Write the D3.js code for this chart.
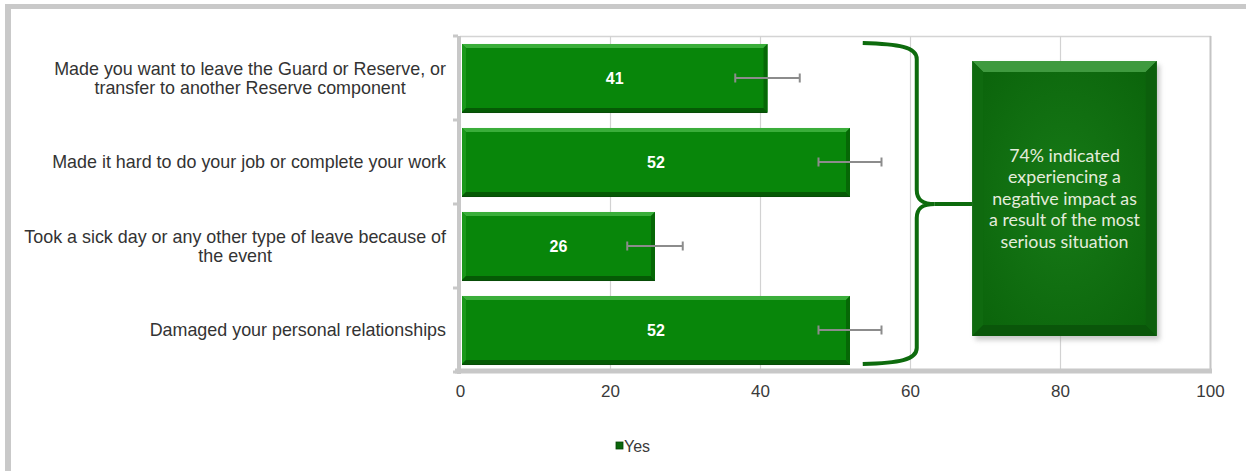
<!DOCTYPE html>
<html>
<head>
<meta charset="utf-8">
<script src="https://cdn.jsdelivr.net/npm/d3@7"></script>
<style>
  html, body { margin: 0; padding: 0; background: #ffffff; }
  svg { display: block; }
</style>
</head>
<body>
<svg id="chart" width="1249" height="471"></svg>
<script>
// ---- data ----
const categories = [
  ["Made you want to leave the Guard or Reserve, or", "transfer to another Reserve component"],
  ["Made it hard to do your job or complete your work"],
  ["Took a sick day or any other type of leave because of", "the event"],
  ["Damaged your personal relationships"]
];
const values = [41, 52, 26, 52];
const errorMargins = [4.3, 4.2, 3.7, 4.2];
const xTicks = [0, 20, 40, 60, 80, 100];
const seriesName = "Yes";
const calloutLines = ["74% indicated", "experiencing a", "negative impact as", "a result of the most", "serious situation"];

// ---- setup ----
const svg = d3.select("#chart");
const W = 1249, H = 471;
const catKeys = categories.map((c, i) => "c" + i);

const x = d3.scaleLinear().domain([0, 100]).range([460, 1210]);
const y = d3.scaleBand().domain(catKeys).range([36, 372]).paddingInner(0.19).paddingOuter(0.095);

const defs = svg.append("defs");

// chart-area frame (top & left edges visible)
svg.append("rect").attr("x", 5).attr("y", 4).attr("width", 1241).attr("height", 5).attr("fill", "#c9c9c9");
svg.append("rect").attr("x", 5).attr("y", 4).attr("width", 6).attr("height", H - 4).attr("fill", "#c9c9c9");

// plot area border (top)
svg.append("line").attr("x1", x(0)).attr("x2", x(100) + 1).attr("y1", 36.5).attr("y2", 36.5)
  .attr("stroke", "#d4d4d4").attr("stroke-width", 1.5);

// gridlines
svg.append("g").selectAll("line").data(xTicks.filter(d => d > 0)).join("line")
  .attr("x1", d => Math.round(x(d)) + 0.5).attr("x2", d => Math.round(x(d)) + 0.5)
  .attr("y1", 36).attr("y2", 370)
  .attr("stroke", d => d === 100 ? "#c4c4c4" : "#d2d2d2").attr("stroke-width", d => d === 100 ? 2 : 1.2);

// x axis (thick bar) and tick labels
const xAxis = d3.axisBottom(x).tickValues(xTicks).tickSize(0).tickPadding(14);
const gx = svg.append("g").attr("transform", "translate(0,371)").call(xAxis);
gx.select(".domain").attr("stroke", "#c8c8c8").attr("stroke-width", 5).attr("d", `M${x(0) - 5},0H${x(100) + 2}`);
gx.selectAll("text")
  .attr("font-family", "'Liberation Sans Narrow', 'Arial Narrow', Arial, sans-serif")
  .attr("font-size", 17).attr("fill", "#3a3a3a");

// y axis (thick bar with ticks at category boundaries)
const gy = svg.append("g");
gy.append("line").attr("x1", 459).attr("x2", 459).attr("y1", 36).attr("y2", 374)
  .attr("stroke", "#c8c8c8").attr("stroke-width", 4);
const bounds = catKeys.map(k => y(k) - y.step() * y.paddingInner() / 2).concat([y(catKeys[3]) + y.bandwidth() + y.step() * y.paddingInner() / 2]);
gy.selectAll("line.tk").data(bounds).join("line").attr("class", "tk")
  .attr("x1", 453).attr("x2", 458).attr("y1", d => d).attr("y2", d => d)
  .attr("stroke", "#c8c8c8").attr("stroke-width", 3);

// category labels
const labelRight = 446;
const lineH = 19.5;
const labels = svg.append("g")
  .attr("font-family", "'Liberation Sans', Arial, sans-serif")
  .attr("font-size", 17.9).attr("fill", "#333333");
categories.forEach((lines, i) => {
  const cy = y(catKeys[i]) + y.bandwidth() / 2;
  const t = labels.append("text").attr("text-anchor", "middle");
  const spans = lines.map((ln, j) => t.append("tspan").text(ln)
    .attr("y", cy + (j - (lines.length - 1) / 2) * lineH).attr("dy", "0.35em"));
  const maxW = d3.max(spans, s => s.node().getComputedTextLength());
  spans.forEach(s => s.attr("x", labelRight - maxW / 2));
});

// bars with bevel
const bars = svg.append("g");
const bev = 4;
catKeys.forEach((k, i) => {
  const x0 = x(0) + 2, x1 = x(values[i]);
  const y0 = y(k), y1 = y(k) + y.bandwidth();
  const g = bars.append("g");
  g.append("rect").attr("x", x0).attr("y", y0).attr("width", x1 - x0).attr("height", y1 - y0).attr("fill", "#08860a");
  g.append("polygon").attr("points", `${x0},${y0} ${x1},${y0} ${x1 - bev},${y0 + bev} ${x0 + bev},${y0 + bev}`).attr("fill", "#3aae3a");
  g.append("polygon").attr("points", `${x0},${y0} ${x0 + bev},${y0 + bev} ${x0 + bev},${y1 - bev} ${x0},${y1}`).attr("fill", "#1a981a");
  g.append("polygon").attr("points", `${x0},${y1} ${x0 + bev},${y1 - bev} ${x1 - bev},${y1 - bev} ${x1},${y1}`).attr("fill", "#055a05");
  g.append("polygon").attr("points", `${x1},${y0} ${x1 - bev},${y0 + bev} ${x1 - bev},${y1 - bev} ${x1},${y1}`).attr("fill", "#066806");
  g.append("line").attr("x1", x0).attr("x2", x1).attr("y1", y1 + 0.5).attr("y2", y1 + 0.5).attr("stroke", "#044a04").attr("stroke-width", 1);
  g.append("text").attr("x", (x0 + x1) / 2).attr("y", (y0 + y1) / 2).attr("dy", "0.36em")
    .attr("text-anchor", "middle").attr("font-family", "'Liberation Sans', Arial, sans-serif")
    .attr("font-weight", "bold").attr("font-size", 16).attr("fill", "#ffffff").text(values[i]);
});

// error bars
const eb = svg.append("g").attr("stroke", "#8c8c8c").attr("stroke-width", 2);
catKeys.forEach((k, i) => {
  const cy = y(k) + y.bandwidth() / 2;
  const lo = x(values[i] - errorMargins[i]), hi = x(values[i] + errorMargins[i]);
  eb.append("line").attr("x1", lo).attr("x2", hi).attr("y1", cy).attr("y2", cy);
  eb.append("line").attr("x1", lo).attr("x2", lo).attr("y1", cy - 4.5).attr("y2", cy + 4.5);
  eb.append("line").attr("x1", hi).attr("x2", hi).attr("y1", cy - 4.5).attr("y2", cy + 4.5);
});

// curly brace
const bTop = y(catKeys[0]) - 1, bBot = y(catKeys[3]) + y.bandwidth();
const bMid = (bTop + bBot) / 2 + 0.5;
const bx0 = x(53.7), bxv = x(60.9), bxc = x(63.3);
const boxX0 = x(68.3), boxX1 = x(92.9);
svg.append("path")
  .attr("d", `M${bx0},${bTop} C${bx0 + 36},${bTop + 1} ${bxv},${bTop + 4} ${bxv},${bTop + 16}
    L${bxv},${bMid - 14} C${bxv},${bMid - 4} ${bxv + 6},${bMid} ${bxc},${bMid}
    C${bxv + 6},${bMid} ${bxv},${bMid + 4} ${bxv},${bMid + 14}
    L${bxv},${bBot - 16} C${bxv},${bBot - 4} ${bx0 + 36},${bBot - 1} ${bx0},${bBot}`)
  .attr("fill", "none").attr("stroke", "#0d6b0d").attr("stroke-width", 4);
svg.append("line").attr("x1", bxc).attr("x2", boxX0).attr("y1", bMid).attr("y2", bMid)
  .attr("stroke", "#0d6b0d").attr("stroke-width", 4);

// callout box
const by0 = 61, by1 = 336, bv = 11;
const shadow = defs.append("filter").attr("id", "sh").attr("x", "-10%").attr("y", "-10%").attr("width", "130%").attr("height", "130%");
shadow.append("feGaussianBlur").attr("stdDeviation", 2.5);
svg.append("rect").attr("x", boxX0 + 3).attr("y", by0 + 4).attr("width", boxX1 - boxX0).attr("height", by1 - by0)
  .attr("fill", "#9a9a9a").attr("opacity", 0.55).attr("filter", "url(#sh)");
const rg = defs.append("radialGradient").attr("id", "face").attr("cx", "50%").attr("cy", "50%").attr("r", "65%");
rg.append("stop").attr("offset", "0%").attr("stop-color", "#177a17");
rg.append("stop").attr("offset", "100%").attr("stop-color", "#0b640b");
svg.append("rect").attr("x", boxX0).attr("y", by0).attr("width", boxX1 - boxX0).attr("height", by1 - by0).attr("fill", "url(#face)");
svg.append("polygon").attr("points", `${boxX0},${by0} ${boxX1},${by0} ${boxX1 - bv},${by0 + bv} ${boxX0 + bv},${by0 + bv}`).attr("fill", "#3f9a3f");
svg.append("polygon").attr("points", `${boxX0},${by0} ${boxX0 + bv},${by0 + bv} ${boxX0 + bv},${by1 - bv} ${boxX0},${by1}`).attr("fill", "#0f6a0f");
svg.append("polygon").attr("points", `${boxX0},${by1} ${boxX0 + bv},${by1 - bv} ${boxX1 - bv},${by1 - bv} ${boxX1},${by1}`).attr("fill", "#0a560a");
svg.append("polygon").attr("points", `${boxX1},${by0} ${boxX1 - bv},${by0 + bv} ${boxX1 - bv},${by1 - bv} ${boxX1},${by1}`).attr("fill", "#0c5f0c");

const ct = svg.append("text").attr("text-anchor", "middle")
  .attr("font-family", "Lato, 'Open Sans', sans-serif").attr("font-size", 17.8).attr("fill", "#e4ecdc");
calloutLines.forEach((ln, j) => {
  ct.append("tspan").attr("x", (boxX0 + boxX1) / 2)
    .attr("y", (by0 + by1) / 2 + (j - (calloutLines.length - 1) / 2) * 21.5).attr("dy", "0.35em").text(ln);
});

// legend
const lg = svg.append("g").attr("transform", "translate(616,446)");
lg.append("rect").attr("x", 0).attr("y", -4).attr("width", 7).attr("height", 7).attr("fill", "#0a660a").attr("stroke", "#064406").attr("stroke-width", 0.8);
lg.append("text").attr("x", 8).attr("y", 0).attr("dy", "0.36em")
  .attr("font-family", "'Liberation Sans Narrow', 'Arial Narrow', Arial, sans-serif")
  .attr("font-size", 16).attr("fill", "#3a3a3a").text(seriesName);
</script>
</body>
</html>
